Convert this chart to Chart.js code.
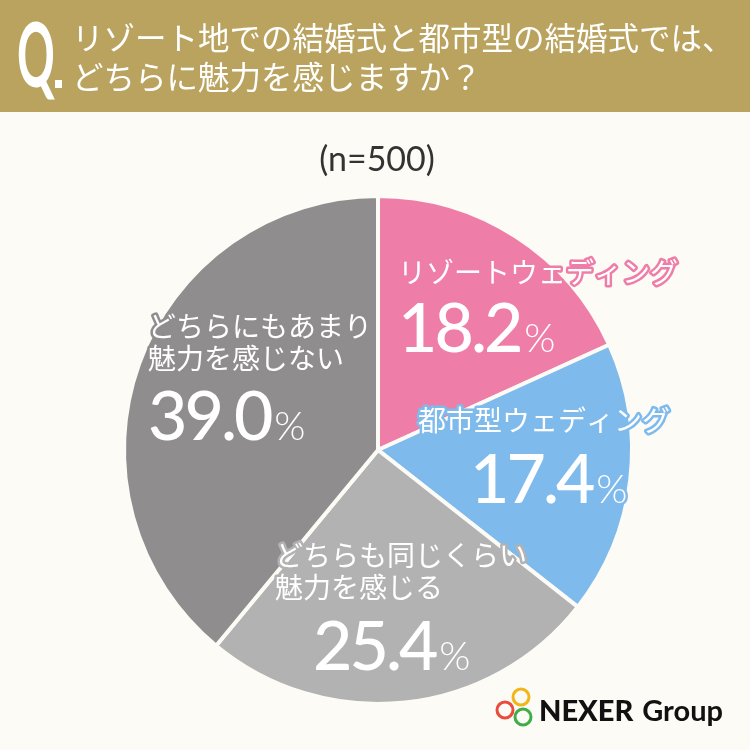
<!DOCTYPE html>
<html>
<head>
<meta charset="utf-8">
<script src="https://cdn.jsdelivr.net/npm/chart.js@4.4.1/dist/chart.umd.min.js"></script>
<style>
  html, body { margin: 0; padding: 0; background: #fcfbf5; }
  #wrap { width: 750px; height: 750px; }
</style>
</head>
<body>
<div id="wrap"><canvas id="chart" width="750" height="750"></canvas></div>
<script>
// data
const categories = ['リゾートウェディング', '都市型ウェディング', 'どちらも同じくらい魅力を感じる', 'どちらにもあまり魅力を感じない'];
const labelLines = [['リゾートウェディング'], ['都市型ウェディング'], ['どちらも同じくらい', '魅力を感じる'], ['どちらにもあまり', '魅力を感じない']];
const percents = [18.2, 17.4, 25.4, 39.0];
const sampleSize = 500;
const titleLines = ['リゾート地での結婚式と都市型の結婚式では、', 'どちらに魅力を感じますか？'];

const sliceColors = ['#ee7ea7', '#7fbaec', '#b2b2b2', '#8f8d8e'];
const bgColor = '#fcfbf5';
const headerColor = '#b9a35e';
const jpFont = '"Noto Sans CJK JP", "Noto Sans", sans-serif';
const numFont = 'Lato, "Noto Sans", sans-serif';

// where each label block sits (text x, first line y, number baseline)
const labelSpots = [
    { x: 398, y: 272, numX: 398, numY: 352 },
    { x: 418, y: 420, numX: 470, numY: 503 },
    { x: 275, y: 555, numX: 313, numY: 670 },
    { x: 148, y: 326, numX: 148, numY: 440 }
];

const ctxt = document.getElementById('chart').getContext('2d');

function outlinedText(ctx, text, x, y, font, stroke) {
    ctx.font = font;
    ctx.lineJoin = 'round';
    ctx.lineWidth = 5;
    ctx.strokeStyle = stroke;
    ctx.strokeText(text, x, y);
    ctx.fillStyle = '#ffffff';
    ctx.fillText(text, x, y);
}

const backdrop = {
    id: 'backdrop',
    beforeDraw(chart) {
        const ctx = chart.ctx;
        ctx.save();
        ctx.fillStyle = bgColor;
        ctx.fillRect(0, 0, chart.width, chart.height);
        ctx.fillStyle = headerColor;
        ctx.fillRect(0, 0, chart.width, 112);

        // "Q."
        ctx.fillStyle = '#ffffff';
        ctx.save();
        ctx.translate(17, 87);
        ctx.scale(0.52, 1);
        ctx.font = 'bold 90px ' + numFont;
        ctx.textBaseline = 'alphabetic';
        ctx.fillText('Q', 0, 0);
        ctx.restore();
        ctx.fillRect(55, 80, 7, 8);

        ctx.font = '31.5px ' + jpFont;
        ctx.textBaseline = 'middle';
        ctx.textAlign = 'left';
        titleLines.forEach((line, i) => {
            ctx.fillText(line, 72, 38 + i * 39);
        });

        ctx.fillStyle = '#333333';
        ctx.textAlign = 'center';
        ctx.font = '34px ' + numFont;
        ctx.fillText(`(n=${sampleSize})`, 377, 160);
        ctx.restore();
    }
};

const sliceLabels = {
    id: 'sliceLabels',
    afterDatasetsDraw(chart) {
        const ctx = chart.ctx;
        ctx.save();
        ctx.textAlign = 'left';
        percents.forEach((value, i) => {
            const spot = labelSpots[i];
            ctx.textBaseline = 'middle';
            labelLines[i].forEach((line, j) => {
                outlinedText(ctx, line, spot.x, spot.y + j * 32, '28px ' + jpFont, sliceColors[i]);
            });
            ctx.textBaseline = 'alphabetic';
            ctx.letterSpacing = '-3px';
            const numText = value.toFixed(1);
            outlinedText(ctx, numText, spot.numX, spot.numY, '500 68px ' + numFont, sliceColors[i]);
            const w = ctx.measureText(numText).width;
            ctx.letterSpacing = '0px';
            outlinedText(ctx, '%', spot.numX + w + 4, spot.numY, '300 40px ' + numFont, sliceColors[i]);
        });
        ctx.restore();

        // NEXER Group logo
        ctx.save();
        ctx.lineWidth = 3;
        [['#e94c3d', 505, 710], ['#f2b619', 521, 697], ['#3fae49', 523, 717]].forEach(([c, x, y]) => {
            ctx.strokeStyle = c;
            ctx.beginPath();
            ctx.arc(x, y, 8, 0, Math.PI * 2);
            ctx.stroke();
        });
        ctx.fillStyle = '#111111';
        ctx.textBaseline = 'alphabetic';
        ctx.font = '900 29px ' + numFont;
        ctx.fillText('NEXER', 539, 721);
        const nexerW = ctx.measureText('NEXER').width;
        ctx.font = 'bold 29px ' + numFont;
        ctx.fillText('Group', 539 + nexerW + 9, 721);
        ctx.restore();
    }
};

const chart = new Chart(ctxt, {
    type: 'pie',
    data: {
        labels: categories,
        datasets: [{
            data: percents,
            backgroundColor: sliceColors,
            borderColor: bgColor,
            borderWidth: 4
        }]
    },
    options: {
        responsive: false,
        animation: false,
        layout: { padding: { left: 122, right: 116, top: 194, bottom: 44 } },
        plugins: {
            legend: { display: false },
            tooltip: { enabled: false }
        }
    },
    plugins: [backdrop, sliceLabels]
});
</script>
</body>
</html>
